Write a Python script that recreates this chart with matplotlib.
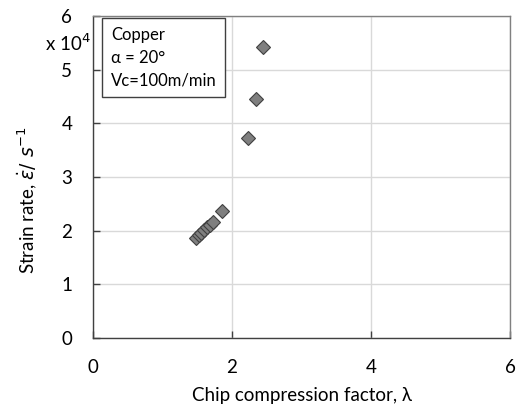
import matplotlib
matplotlib.use('Agg')
import matplotlib.pyplot as plt
from matplotlib.patches import Rectangle

# Strain rate vs chip compression factor (copper, alpha = 20 deg, Vc = 100 m/min)
chip_factor = [1.48, 1.52, 1.56, 1.60, 1.64, 1.68, 1.72, 1.85, 2.23, 2.35, 2.45]
strain_rate = [1.86, 1.91, 1.96, 2.01, 2.06, 2.11, 2.16, 2.37, 3.72, 4.45, 5.42]  # x 10^4

x_ticks = [0, 2, 4, 6]
y_ticks = [0, 1, 2, 3, 4, 5, 6]
info_lines = ['Copper', '\u03b1 = 20\u00b0', 'Vc=100m/min']

plt.rcParams['font.family'] = ['Lato', 'DejaVu Sans']
plt.rcParams['mathtext.fontset'] = 'dejavusans'

fig = plt.figure(figsize=(5.19, 4.07), dpi=100)
ax = fig.add_axes([93 / 519, 69 / 407, 417 / 519, 322 / 407])

ax.plot(chip_factor, strain_rate, linestyle='none', marker='D', markersize=7,
        markerfacecolor='#7f7f7f', markeredgecolor='#404040', markeredgewidth=0.8,
        zorder=3)

ax.set_xlim(0, 6)
ax.set_ylim(0, 6)
ax.set_xticks(x_ticks)
ax.set_yticks(y_ticks)
ax.grid(True, color='#d9d9d9', linewidth=1)
ax.set_axisbelow(True)
for s in ax.spines.values():
    s.set_color('#808080')
    s.set_linewidth(1)
ax.spines['left'].set_color('#404040')
ax.spines['bottom'].set_color('#404040')
ax.tick_params(direction='in', length=5, width=1, color='#404040', labelsize=13.5)
ax.tick_params(axis='x', pad=15)
ax.tick_params(axis='y', pad=15)

ax.set_xlabel('Chip compression factor, \u03bb', fontsize=13.5, va='baseline')
ax.xaxis.set_label_coords(0.5, -0.196)
ax.set_ylabel(r'Strain rate, $\dot{\varepsilon}/\ s^{-1}$', fontsize=13.5)
ax.yaxis.set_label_coords(-0.129, 0.43)

fig.text(45 / 519, 1 - 43 / 407, r'x 10$^4$', fontsize=13.5, va='center', ha='left')

# info box in the top-left corner
ax.add_patch(Rectangle((0.0216, 0.748), 0.295, 0.245, transform=ax.transAxes,
                       facecolor='white', edgecolor='#404040', linewidth=1, zorder=4))
for i, line in enumerate(info_lines):
    ax.text(0.043, 0.941 - i * 0.07, line, transform=ax.transAxes,
            fontsize=12, va='center', ha='left', zorder=5)

plt.savefig('out.png', dpi=100)
